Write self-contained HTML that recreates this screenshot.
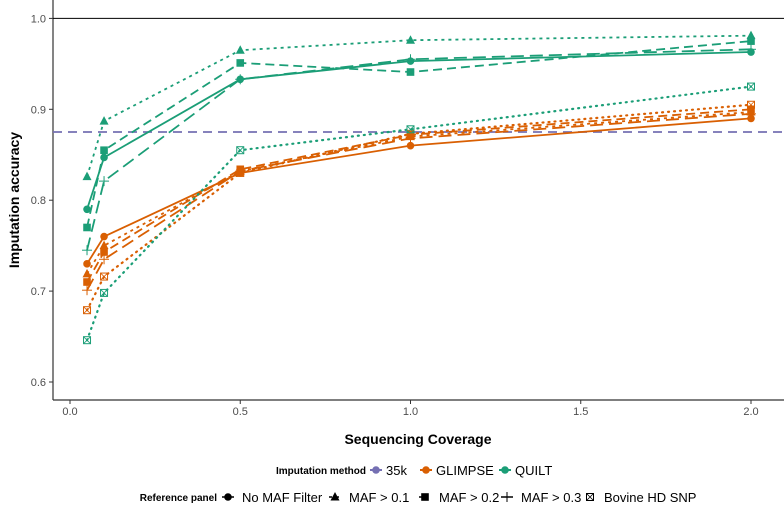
<!DOCTYPE html>
<html><head><meta charset="utf-8">
<style>
html,body{margin:0;padding:0;background:#fff;}
svg{display:block;font-family:"Liberation Sans",sans-serif;}
</style></head>
<body>
<svg id="chart" width="784" height="512" viewBox="0 0 784 512"></svg>
<script>
const coverage = [0.05, 0.1, 0.5, 1.0, 2.0];
const panels = ["No MAF Filter", "MAF > 0.1", "MAF > 0.2", "MAF > 0.3", "Bovine HD SNP"];
const quiltNoFilter = [0.790, 0.847, 0.933, 0.953, 0.963];
const quiltMaf01 = [0.826, 0.887, 0.965, 0.976, 0.981];
const quiltMaf02 = [0.770, 0.855, 0.951, 0.941, 0.975];
const quiltMaf03 = [0.745, 0.821, 0.933, 0.955, 0.966];
const quiltBovine = [0.646, 0.698, 0.855, 0.878, 0.925];
const glimpseNoFilter = [0.730, 0.760, 0.830, 0.860, 0.890];
const glimpseMaf01 = [0.719, 0.750, 0.832, 0.870, 0.897];
const glimpseMaf02 = [0.710, 0.743, 0.834, 0.872, 0.900];
const glimpseMaf03 = [0.701, 0.735, 0.832, 0.868, 0.895];
const glimpseBovine = [0.679, 0.716, 0.830, 0.873, 0.905];
const baseline35k = 0.875;
const xTicks = [0.0, 0.5, 1.0, 1.5, 2.0];
const xTickLabels = ["0.0", "0.5", "1.0", "1.5", "2.0"];
const yTicks = [0.6, 0.7, 0.8, 0.9, 1.0];
const yTickLabels = ["0.6", "0.7", "0.8", "0.9", "1.0"];

const NS = "http://www.w3.org/2000/svg";
const svg = document.getElementById("chart");
const X = v => 70 + v * 340.5;
const Y = v => 382 - (v - 0.6) * 909;
const QC = "#1b9e77", GC = "#d95f02", KC = "#7570b3";
const dashes = ["", "3,4", "9,5", "13,6", "1,5"];
function mk(tag, attrs, parent){
  const e = document.createElementNS(NS, tag);
  for (const k in attrs) e.setAttribute(k, attrs[k]);
  (parent || svg).appendChild(e);
  return e;
}
let el = mk("line",{x1:53,y1:0,x2:53,y2:400,stroke:"#333","stroke-width":1.2});
 
el = mk("line",{x1:53,y1:400,x2:784,y2:400,stroke:"#333","stroke-width":1.2});
 
el = mk("line",{x1:53,y1:Y(1.0),x2:784,y2:Y(1.0),stroke:"#000","stroke-width":1});
 
yTicks.forEach((t,i)=>{
  mk("line",{x1:49,y1:Y(t),x2:53,y2:Y(t),stroke:"#333"});
  const tx = mk("text",{x:46,y:Y(t)+4,"text-anchor":"end","font-size":11,fill:"#4d4d4d"});
  tx.textContent = yTickLabels[i];
   
});
xTicks.forEach((t,i)=>{
  mk("line",{x1:X(t),y1:400,x2:X(t),y2:404,stroke:"#333"});
  const tx = mk("text",{x:X(t),y:415,"text-anchor":"middle","font-size":11,fill:"#4d4d4d"});
  tx.textContent = xTickLabels[i];
   
});
el = mk("line",{x1:53,y1:Y(baseline35k),x2:784,y2:Y(baseline35k),stroke:KC,"stroke-width":1.8,"stroke-dasharray":"9,6"});
 

function marker(kind, cx, cy, color, g){
  if (kind===0) mk("circle",{cx,cy,r:3.8,fill:color},g);
  else if (kind===1) mk("polygon",{points:`${cx},${cy-5} ${cx-4.5},${cy+3.5} ${cx+4.5},${cy+3.5}`,fill:color},g);
  else if (kind===2) mk("rect",{x:cx-3.8,y:cy-3.8,width:7.6,height:7.6,fill:color},g);
  else if (kind===3){ mk("line",{x1:cx-5,y1:cy,x2:cx+5,y2:cy,stroke:color,"stroke-width":1},g); mk("line",{x1:cx,y1:cy-5,x2:cx,y2:cy+5,stroke:color,"stroke-width":1},g);}
  else { mk("rect",{x:cx-3.5,y:cy-3.5,width:7,height:7,fill:"none",stroke:color,"stroke-width":1},g);
    mk("path",{d:`M${cx-3.5},${cy-3.5}L${cx+3.5},${cy+3.5}M${cx+3.5},${cy-3.5}L${cx-3.5},${cy+3.5}`,stroke:color,"stroke-width":0.8},g);}
}
const series = [
  ["glimpse-bovine",glimpseBovine,GC,4],["glimpse-maf03",glimpseMaf03,GC,3],["glimpse-maf02",glimpseMaf02,GC,2],
  ["glimpse-maf01",glimpseMaf01,GC,1],["glimpse-no-filter",glimpseNoFilter,GC,0],
  ["quilt-bovine",quiltBovine,QC,4],["quilt-maf03",quiltMaf03,QC,3],["quilt-maf02",quiltMaf02,QC,2],
  ["quilt-maf01",quiltMaf01,QC,1],["quilt-no-filter",quiltNoFilter,QC,0]
];
series.forEach(([name,vals,color,k])=>{
  const g = mk("g",{});
  
  
  const pts = vals.map((v,i)=>X(coverage[i])+","+Y(v)).join(" ");
  const attrs = {points:pts,fill:"none",stroke:color,"stroke-width":k===4?2.2:1.8};
  if (dashes[k]) attrs["stroke-dasharray"]=dashes[k];
  if (k===4) attrs["stroke-linecap"]="round";
  mk("polyline",attrs,g);
  vals.forEach((v,i)=>marker(k,X(coverage[i]),Y(v),color,g));
});
el = mk("text",{x:418,y:444,"text-anchor":"middle","font-size":14,"font-weight":"bold",fill:"#000"});
el.textContent="Sequencing Coverage";
 
el = mk("text",{x:0,y:0,transform:"translate(19,200) rotate(-90)","text-anchor":"middle","font-size":14,"font-weight":"bold",fill:"#000"});
el.textContent="Imputation accuracy";
 
// legend 1
const lg1 = mk("g",{});  
let t = mk("text",{x:366,y:474,"text-anchor":"end","font-size":10,"font-weight":"bold"},lg1); t.textContent="Imputation method";
[["35k",KC,376],["GLIMPSE",GC,426],["QUILT",QC,505]].forEach(([lab,c,x])=>{
  const g = mk("g",{},lg1);  
  mk("line",{x1:x-6,y1:470,x2:x+6,y2:470,stroke:c,"stroke-width":2},g);
  mk("circle",{cx:x,cy:470,r:3.8,fill:c},g);
  const tt = mk("text",{x:x+10,y:475,"font-size":13},g); tt.textContent=lab;
});
// legend 2
const lg2 = mk("g",{});  
t = mk("text",{x:217,y:501,"text-anchor":"end","font-size":10,"font-weight":"bold"},lg2); t.textContent="Reference panel";
const lx = [228,335,425,507,590];
panels.forEach((p,k)=>{
  const g = mk("g",{},lg2);  
  const x = lx[k];
  if (k!==4) mk("line",{x1:x-6,y1:497,x2:x+6,y2:497,stroke:"#000","stroke-width":1.5,"stroke-dasharray":dashes[k]||"none"},g);
  marker(k,x,497,"#000",g);
  const tt = mk("text",{x:x+14,y:502,"font-size":13},g); tt.textContent=p;
});
</script>
</body></html>
